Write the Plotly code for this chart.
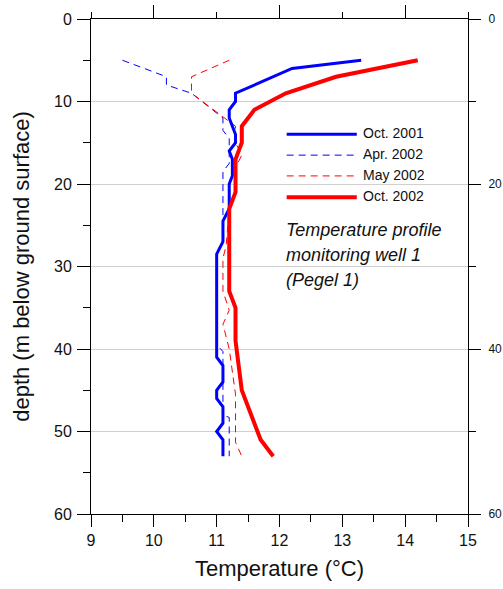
import plotly.graph_objects as go

# ---- data (temperature in °C, depth in m below ground surface) ----
depth_oct2001 = [5, 6, 9, 10, 11, 12, 14, 15, 16, 17, 19, 20, 23, 24.5, 27, 28.5, 41, 42, 44, 45, 46, 47, 49, 50, 51, 53]
temp_oct2001 = [13.3, 12.2, 11.3, 11.3, 11.2, 11.2, 11.3, 11.3, 11.2, 11.25, 11.25, 11.2, 11.2, 11.1, 11.1, 11.0,
                11.0, 11.1, 11.1, 11.0, 11.0, 11.1, 11.1, 11.0, 11.1, 11.1]

depth_apr2002 = [5, 7, 8, 9, 12, 13.5, 14.5, 17.5, 18.5, 27.3, 28, 39.5, 40.3, 48, 48.3, 53]
temp_apr2002 = [9.5, 10.2, 10.2, 10.6, 11.1, 11.1, 11.2, 11.2, 11.1, 11.1, 11.0, 11.0, 11.1, 11.1, 11.2, 11.2]

depth_may2002 = [5, 7, 9, 12.5, 13, 15, 16.5, 18, 21, 23, 27.5, 29, 33, 35.3, 37, 40, 45.5, 51.3, 53]
temp_may2002 = [11.2, 10.6, 10.6, 11.2, 11.3, 11.3, 11.4, 11.3, 11.3, 11.2, 11.15, 11.1, 11.1, 11.2, 11.1, 11.2,
                11.3, 11.3, 11.4]

depth_oct2002 = [5, 7, 9, 11, 13, 15, 17, 21, 23, 33, 35, 39, 45, 51, 53]
temp_oct2002 = [14.2, 12.9, 12.1, 11.6, 11.4, 11.4, 11.3, 11.3, 11.2, 11.2, 11.3, 11.3, 11.4, 11.7, 11.9]

series_names = ["Oct. 2001", "Apr. 2002", "May 2002", "Oct. 2002"]
x_ticks = [9, 10, 11, 12, 13, 14, 15]
y_ticks = [0, 10, 20, 30, 40, 50, 60]
y_ticks_right = [0, 20, 40, 60]
note_lines = ["Temperature profile", "monitoring well 1", "(Pegel 1)"]

BLUE = "#0000ff"
RED = "#ff0000"
FONT = "Arial, Liberation Sans, Helvetica, sans-serif"

styles = {
    "Oct. 2001": dict(color=BLUE, width=3, dash="solid"),
    "Apr. 2002": dict(color=BLUE, width=1, dash="7px,5px"),
    "May 2002": dict(color=RED, width=1, dash="7px,5px"),
    "Oct. 2002": dict(color=RED, width=4, dash="solid"),
}
data = {
    "Oct. 2001": (temp_oct2001, depth_oct2001),
    "Apr. 2002": (temp_apr2002, depth_apr2002),
    "May 2002": (temp_may2002, depth_may2002),
    "Oct. 2002": (temp_oct2002, depth_oct2002),
}

fig = go.Figure()
# dashed first so solid lines lie on top
for name in ["Apr. 2002", "May 2002", "Oct. 2001", "Oct. 2002"]:
    t, d = data[name]
    fig.add_trace(go.Scatter(x=t, y=d, mode="lines", name=name, line=styles[name],
                             showlegend=False, hoverinfo="x+y"))

# invisible trace to activate the top / right axes
fig.add_trace(go.Scatter(x=[None], y=[None], xaxis="x2", yaxis="y2", showlegend=False, hoverinfo="skip"))

# manual legend (long line samples like the original)
leg_x0, leg_x1, leg_tx = 0.519, 0.705, 0.716
leg_y = [0.767, 0.725, 0.683, 0.640]
annotations = []
shapes = []
for name, yy in zip(series_names, leg_y):
    st = styles[name]
    shapes.append(dict(type="line", xref="paper", yref="paper", x0=leg_x0, x1=leg_x1, y0=yy, y1=yy,
                       line=dict(color=st["color"], width=st["width"], dash=st["dash"])))
    annotations.append(dict(text=name, xref="paper", yref="paper", x=leg_tx, y=yy + 0.002,
                            xanchor="left", yanchor="middle", showarrow=False,
                            font=dict(family=FONT, size=14, color="#111111")))

note_y = [0.574, 0.524, 0.473]
for line, yy in zip(note_lines, note_y):
    annotations.append(dict(text="<i>" + line + "</i>", xref="paper", yref="paper", x=0.512, y=yy,
                            xanchor="left", yanchor="middle", showarrow=False,
                            font=dict(family=FONT, size=18, color="#111111")))

axis_common = dict(showline=True, linecolor="black", linewidth=1, zeroline=False,
                   ticks="outside", tickcolor="black", tickwidth=1)

fig.update_layout(
    width=503, height=589,
    margin=dict(l=91, r=35, t=19, b=75, autoexpand=False),
    paper_bgcolor="white", plot_bgcolor="white",
    font=dict(family=FONT, color="#111111"),
    showlegend=False,
    xaxis=dict(range=[9, 15], tickmode="array", tickvals=x_ticks, ticklen=12,
               tickfont=dict(size=16), showgrid=False,
               minor=dict(dtick=0.5, tick0=9, ticklen=7, ticks="outside", tickcolor="black", showgrid=False),
               title=dict(text="Temperature (°C)", font=dict(size=22), standoff=12),
               **axis_common),
    xaxis2=dict(range=[9, 15], overlaying="x", side="top", tickmode="array", tickvals=[10, 12, 14],
                ticklen=13, showticklabels=False, showgrid=False,
                minor=dict(tickmode="array", tickvals=[9, 11, 13, 15], ticklen=6, ticks="outside",
                           tickcolor="black", showgrid=False),
                anchor="y2", **axis_common),
    yaxis=dict(range=[60, 0], tickmode="array", tickvals=y_ticks, ticklen=13,
               tickfont=dict(size=16), showgrid=True, gridcolor="#d0d0d0", gridwidth=1,
               ticklabelstandoff=2,
               minor=dict(dtick=5, tick0=0, ticklen=7, ticks="outside", tickcolor="black", showgrid=False),
               title=dict(text="depth (m below ground surface)", font=dict(size=22), standoff=18),
               **axis_common),
    yaxis2=dict(range=[60, 0], overlaying="y", side="right", tickmode="array", tickvals=y_ticks_right,
                ticklen=12, tickfont=dict(size=12), showgrid=False, ticklabelstandoff=5,
                minor=dict(tickmode="array", tickvals=[10, 30, 50], ticklen=7, ticks="outside",
                           tickcolor="black", showgrid=False),
                anchor="x2", **axis_common),
    shapes=shapes,
    annotations=annotations,
)

fig.write_html("out.html")
